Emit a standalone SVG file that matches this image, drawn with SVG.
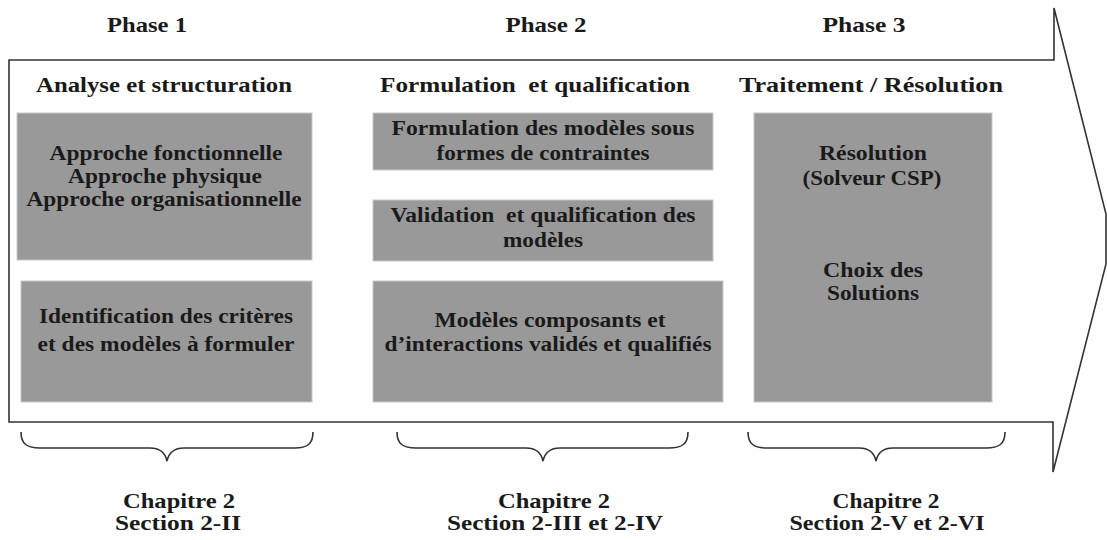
<svg xmlns="http://www.w3.org/2000/svg" width="1107" height="540" viewBox="0 0 1107 540">
<style>
.t{font-family:"Liberation Serif","Times New Roman",serif;font-weight:bold;font-size:21px;fill:#1a1a1a;text-anchor:middle;white-space:pre}
.box{fill:#999999;stroke:#c8c8c8;stroke-width:1}
.line{fill:none;stroke:#333333;stroke-width:1.6;stroke-linejoin:miter}
</style>
<rect width="1107" height="540" fill="#ffffff"/>
<g id="arrow">
<path class="line" d="M9,60 L1054,60 L1054,8 L1106,214 L1106,264 L1053,472 L1053,422 L9,422 Z" fill="#ffffff"/>
</g>
<g id="phase-labels">
<text class="t" x="147" y="32" textLength="80" lengthAdjust="spacingAndGlyphs">Phase 1</text>
<text class="t" x="546" y="32" textLength="81" lengthAdjust="spacingAndGlyphs">Phase 2</text>
<text class="t" x="864" y="32" textLength="83" lengthAdjust="spacingAndGlyphs">Phase 3</text>
</g>
<g id="headers">
<text class="t" x="164" y="92" textLength="256" lengthAdjust="spacingAndGlyphs">Analyse et structuration</text>
<text class="t" x="535" y="92" textLength="310" lengthAdjust="spacingAndGlyphs" xml:space="preserve">Formulation  et qualification</text>
<text class="t" x="871" y="92" textLength="264" lengthAdjust="spacingAndGlyphs">Traitement / Résolution</text>
</g>
<g id="n-approches">
<rect class="box" x="17" y="113" width="295" height="147"/>
<text class="t" x="166" y="160" textLength="233" lengthAdjust="spacingAndGlyphs">Approche fonctionnelle</text>
<text class="t" x="165" y="183" textLength="194" lengthAdjust="spacingAndGlyphs">Approche physique</text>
<text class="t" x="164" y="206" textLength="275" lengthAdjust="spacingAndGlyphs">Approche organisationnelle</text>
</g>
<g id="n-identification">
<rect class="box" x="21" y="281" width="291" height="121"/>
<text class="t" x="166" y="323" textLength="254" lengthAdjust="spacingAndGlyphs">Identification des critères</text>
<text class="t" x="166" y="351" textLength="257" lengthAdjust="spacingAndGlyphs">et des modèles à formuler</text>
</g>
<g id="n-formulation">
<rect class="box" x="373" y="113" width="340" height="57"/>
<text class="t" x="543" y="135" textLength="303" lengthAdjust="spacingAndGlyphs">Formulation des modèles sous</text>
<text class="t" x="543" y="160" textLength="213" lengthAdjust="spacingAndGlyphs">formes de contraintes</text>
</g>
<g id="n-validation">
<rect class="box" x="373" y="200" width="340" height="61"/>
<text class="t" x="543" y="222" textLength="305" lengthAdjust="spacingAndGlyphs" xml:space="preserve">Validation  et qualification des</text>
<text class="t" x="543" y="247" textLength="80" lengthAdjust="spacingAndGlyphs">modèles</text>
</g>
<g id="n-modeles">
<rect class="box" x="373" y="281" width="350" height="121"/>
<text class="t" x="550" y="327" textLength="231" lengthAdjust="spacingAndGlyphs">Modèles composants et</text>
<text class="t" x="548" y="351" textLength="327" lengthAdjust="spacingAndGlyphs">d’interactions validés et qualifiés</text>
</g>
<g id="n-resolution">
<rect class="box" x="754" y="113" width="238" height="289"/>
<text class="t" x="873" y="160" textLength="108" lengthAdjust="spacingAndGlyphs">Résolution</text>
<text class="t" x="872" y="185" textLength="139" lengthAdjust="spacingAndGlyphs">(Solveur CSP)</text>
<text class="t" x="873" y="277" textLength="100" lengthAdjust="spacingAndGlyphs">Choix des</text>
<text class="t" x="873" y="300" textLength="92" lengthAdjust="spacingAndGlyphs">Solutions</text>
</g>
<g id="connectors">
<path class="line" d="M21,432 C21,444 27,448 40,448 L150,448 C160,448 165,452 167,461 C169,452 174,448 184,448 L295,448 C307,448 313,444 313,432"/>
<path class="line" d="M397,432 C397,444 403,448 416,448 L526,448 C536,448 541,452 543,461 C545,452 550,448 560,448 L669,448 C682,448 688,444 688,432"/>
<path class="line" d="M748,432 C748,444 754,448 767,448 L859,448 C869,448 874,452 876,461 C878,452 883,448 893,448 L986,448 C999,448 1005,444 1005,432"/>
</g>
<g id="chapters">
<text class="t" x="179" y="508" textLength="112" lengthAdjust="spacingAndGlyphs">Chapitre 2</text>
<text class="t" x="178" y="530" textLength="126" lengthAdjust="spacingAndGlyphs">Section 2-II</text>
<text class="t" x="554" y="508" textLength="112" lengthAdjust="spacingAndGlyphs">Chapitre 2</text>
<text class="t" x="555" y="530" textLength="216" lengthAdjust="spacingAndGlyphs">Section 2-III et 2-IV</text>
<text class="t" x="886" y="508" textLength="107" lengthAdjust="spacingAndGlyphs">Chapitre 2</text>
<text class="t" x="887" y="530" textLength="195" lengthAdjust="spacingAndGlyphs">Section 2-V et 2-VI</text>
</g>
</svg>
